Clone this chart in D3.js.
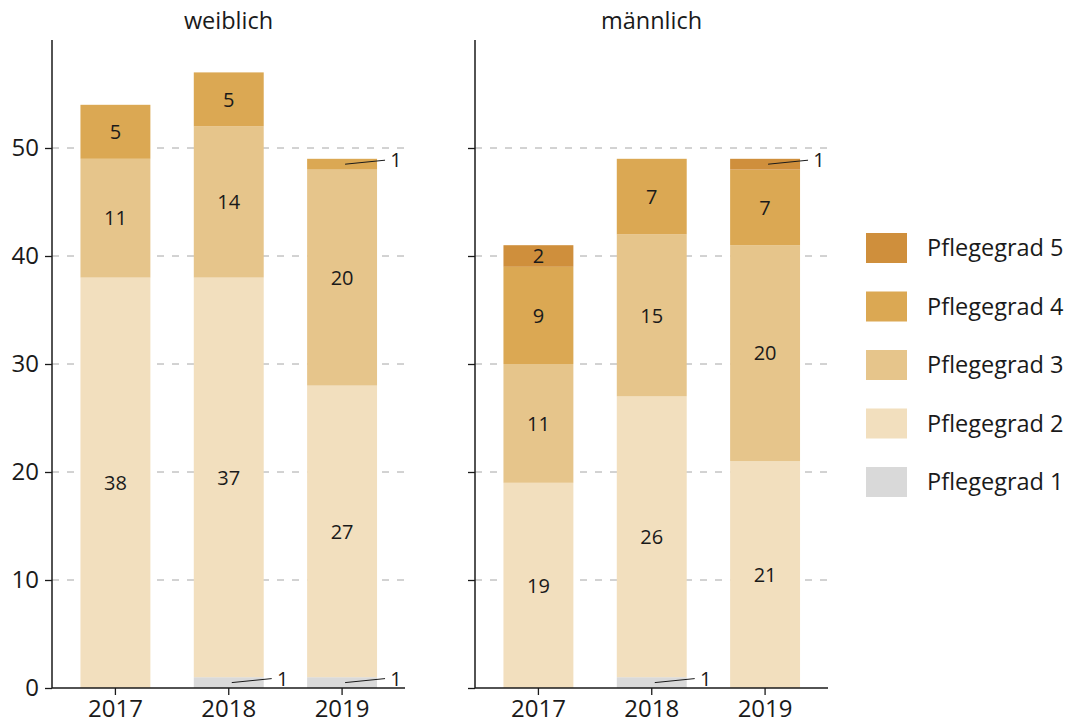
<!DOCTYPE html>
<html><head><meta charset="utf-8">
<script src="https://cdn.jsdelivr.net/npm/d3@7"></script>
<style>body{margin:0;background:#fff;} text{font-family:"Open Sans",sans-serif;fill:#1a1a1a;}</style>
</head><body><svg id="c" width="1070" height="724"></svg>
<script>
const years = ["2017","2018","2019"];
const panels = ["weiblich","männlich"];
const grades = ["Pflegegrad 1","Pflegegrad 2","Pflegegrad 3","Pflegegrad 4","Pflegegrad 5"];
const colors = ["#d9d9d9","#f2dfbe","#e6c58b","#dba853","#cf8f3c"];
// values per grade [PG1..PG5], per year
const weiblich = [[0,38,11,5,0],[1,37,14,5,0],[1,27,20,1,0]];
const maennlich = [[0,19,11,9,2],[1,26,15,7,0],[0,21,20,7,1]];
const yTicks = [0,10,20,30,40,50];

const svg = d3.select("#c");
const y = d3.scaleLinear().domain([0,60]).range([688,40]);
const panelData = [weiblich, maennlich];
const offsets = [0, 423];

panelData.forEach((data, pi) => {
  const g = svg.append("g").attr("transform", `translate(${offsets[pi]},0)`);
  const x = d3.scaleBand().domain(years).range([58.75, 398.75]).paddingInner(0.383).paddingOuter(0.1915);
  // grid
  g.selectAll("line.grid").data(yTicks.filter(d=>d>0)).enter().append("line")
    .attr("x1",52).attr("x2",405).attr("y1",d=>y(d)).attr("y2",d=>y(d))
    .attr("stroke","#a6a6a6").attr("stroke-width",1).attr("stroke-dasharray","7,8");
  // bars
  data.forEach((vals, yi) => {
    let cum = 0;
    vals.forEach((v, gi) => {
      const y0 = cum, y1 = cum + v; cum = y1;
      if (v <= 0) return;
      const bx = x(years[yi]), bw = x.bandwidth();
      g.append("rect").attr("x",bx).attr("width",bw)
        .attr("y",y(y1)).attr("height",y(y0)-y(y1)).attr("fill",colors[gi]);
      const mid = y((y0+y1)/2);
      if (v >= 2) {
        g.append("text").attr("x",bx+bw/2).attr("y",mid).attr("dy","0.36em")
          .attr("text-anchor","middle").attr("font-size",20).text(v);
      } else {
        g.append("line").attr("x1",bx+bw/2+3).attr("y1",mid).attr("x2",bx+bw+8).attr("y2",mid-4)
          .attr("stroke","#1a1a1a").attr("stroke-width",1);
        g.append("text").attr("x",bx+bw+19).attr("y",mid-4).attr("dy","0.36em")
          .attr("text-anchor","middle").attr("font-size",20).text(v);
      }
    });
  });
  // y axis
  const ya = d3.axisLeft(y).tickValues(yTicks).tickSize(7).tickPadding(6).tickFormat(pi===0? d3.format("d") : "");
  const ag = g.append("g").attr("transform","translate(52,0)").call(ya);
  ag.select(".domain").remove();
  ag.selectAll("line").attr("stroke","#1a1a1a").attr("stroke-width",1.3);
  ag.selectAll("text").attr("font-size",24).attr("fill","#1a1a1a").attr("font-family","Open Sans");
  g.append("line").attr("x1",52).attr("x2",52).attr("y1",40).attr("y2",688).attr("stroke","#1a1a1a").attr("stroke-width",1.5);
  // x axis
  const xa = d3.axisBottom(x).tickSize(7);
  const xg = g.append("g").attr("transform","translate(0,688)").call(xa);
  xg.select(".domain").remove();
  xg.selectAll("line").attr("stroke","#1a1a1a").attr("stroke-width",1.3);
  xg.selectAll("text").attr("font-size",24).attr("fill","#1a1a1a").attr("font-family","Open Sans").attr("y",12).attr("dy","0.71em");
  g.append("line").attr("x1",52).attr("x2",405).attr("y1",688).attr("y2",688).attr("stroke","#1a1a1a").attr("stroke-width",1.5);
  // title
  g.append("text").attr("x",228.5).attr("y",29).attr("text-anchor","middle").attr("font-size",23.5).text(panels[pi]);
});

// legend
const lg = svg.append("g");
const order = [4,3,2,1,0];
order.forEach((gi, i) => {
  const yy = 233 + i*58.5;
  lg.append("rect").attr("x",866).attr("y",yy).attr("width",41).attr("height",30).attr("fill",colors[gi]);
  lg.append("text").attr("x",927).attr("y",yy+15).attr("dy","0.36em").attr("font-size",23.5).text(grades[gi]);
});
</script></body></html>
